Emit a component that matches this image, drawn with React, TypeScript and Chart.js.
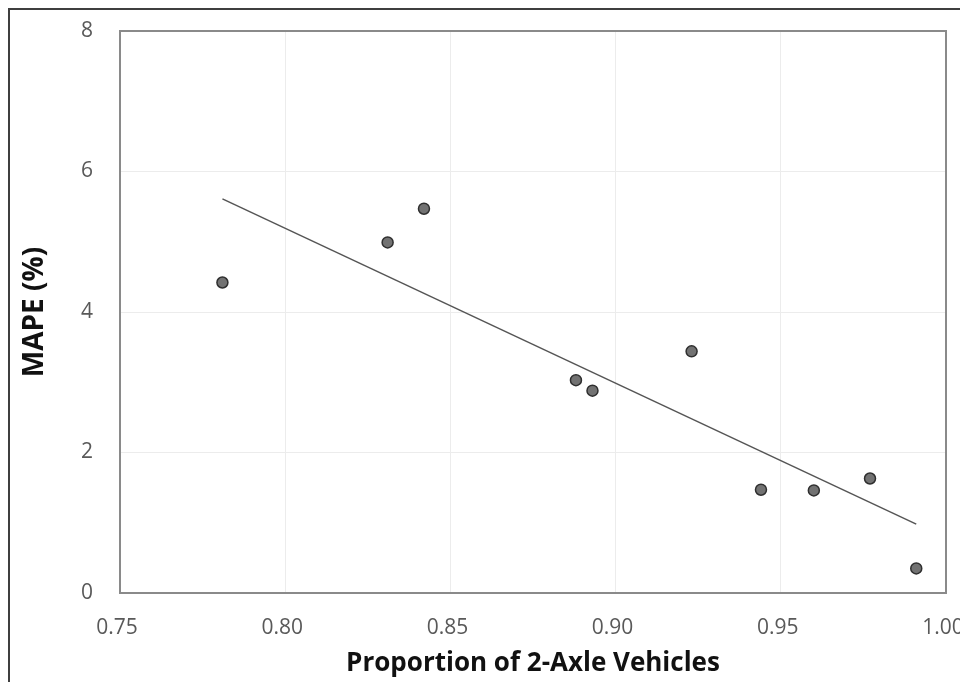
import React, { useEffect, useRef } from "react";
import { Chart, registerables } from "chart.js";

Chart.register(...registerables);

const proportionValues = [0.781, 0.831, 0.842, 0.888, 0.893, 0.923, 0.944, 0.960, 0.977, 0.991];
const mapeValues = [4.42, 4.99, 5.47, 3.03, 2.88, 3.44, 1.47, 1.46, 1.63, 0.35];
const trendX = [0.781, 0.991];
const trendY = [5.61, 0.98];
const xTitle = "Proportion of 2-Axle Vehicles";
const yTitle = "MAPE (%)";

const FONT = "'Open Sans', sans-serif";

const plotBox = {
  id: "plotBox",
  beforeDatasetsDraw(chart: any) {
    const { ctx, chartArea } = chart;
    ctx.save();
    ctx.strokeStyle = "#8a8a8a";
    ctx.lineWidth = 2;
    ctx.strokeRect(chartArea.left, chartArea.top, chartArea.right - chartArea.left, chartArea.bottom - chartArea.top);
    ctx.restore();
  },
};

const zeroPad = (s: any) => {
  s.paddingTop = 0;
  s.paddingBottom = 0;
  s.paddingLeft = 0;
  s.paddingRight = 0;
};

export default function App() {
  const ref = useRef<HTMLCanvasElement | null>(null);
  useEffect(() => {
    if (!ref.current) return;
    const scatterData = proportionValues.map((x, i) => ({ x, y: mapeValues[i] }));
    const trendData = trendX.map((x, i) => ({ x, y: trendY[i] }));
    const chart = new Chart(ref.current, {
      type: "scatter",
      data: {
        datasets: [
          {
            type: "line",
            data: trendData,
            borderColor: "#555555",
            borderWidth: 1.5,
            pointRadius: 0,
            fill: false,
            order: 2,
          } as any,
          {
            data: scatterData,
            backgroundColor: "#727272",
            borderColor: "#2f2f2f",
            borderWidth: 1.5,
            pointRadius: 5.5,
            order: 1,
          },
        ],
      },
      options: {
        animation: false,
        responsive: false,
        devicePixelRatio: 1,
        layout: { padding: { left: 0, top: 21, right: 22, bottom: 0 } },
        plugins: { legend: { display: false }, tooltip: { enabled: false } },
        scales: {
          x: {
            type: "linear",
            min: 0.75,
            max: 1.0,
            afterFit: (s: any) => { s.height = 89; zeroPad(s); },
            border: { display: false },
            grid: { color: "#ececec", lineWidth: 1, drawTicks: false },
            ticks: {
              stepSize: 0.05,
              padding: 22,
              maxRotation: 0,
              labelOffset: -3,
              color: "#595959",
              font: { family: FONT, size: 21 },
              callback: (v: any) => Number(v).toFixed(2),
            },
            title: {
              display: true,
              text: xTitle,
              color: "#111111",
              font: { family: FONT, size: 26, weight: "bold" },
              padding: { top: 0, bottom: 3 },
            },
          },
          y: {
            type: "linear",
            min: 0,
            max: 8,
            afterFit: (s: any) => { s.width = 110; zeroPad(s); },
            border: { display: false },
            grid: { color: "#ececec", lineWidth: 1, drawTicks: false },
            ticks: {
              stepSize: 2,
              padding: 27,
              color: "#595959",
              font: { family: FONT, size: 21 },
            },
            title: {
              display: true,
              text: yTitle,
              color: "#111111",
              font: { family: FONT, size: 28, weight: "bold" },
              padding: { top: 8, bottom: 0 },
            },
          },
        },
      },
      plugins: [plotBox],
    });
    return () => chart.destroy();
  }, []);

  return (
    <div
      style={{
        width: 960,
        height: 674,
        boxSizing: "border-box",
        borderLeft: "2px solid #3f3f3f",
        borderTop: "2px solid #3f3f3f",
        background: "#fff",
        position: "relative",
      }}
    >
      <canvas ref={ref} width={958} height={672} style={{ display: "block" }} />
    </div>
  );
}
